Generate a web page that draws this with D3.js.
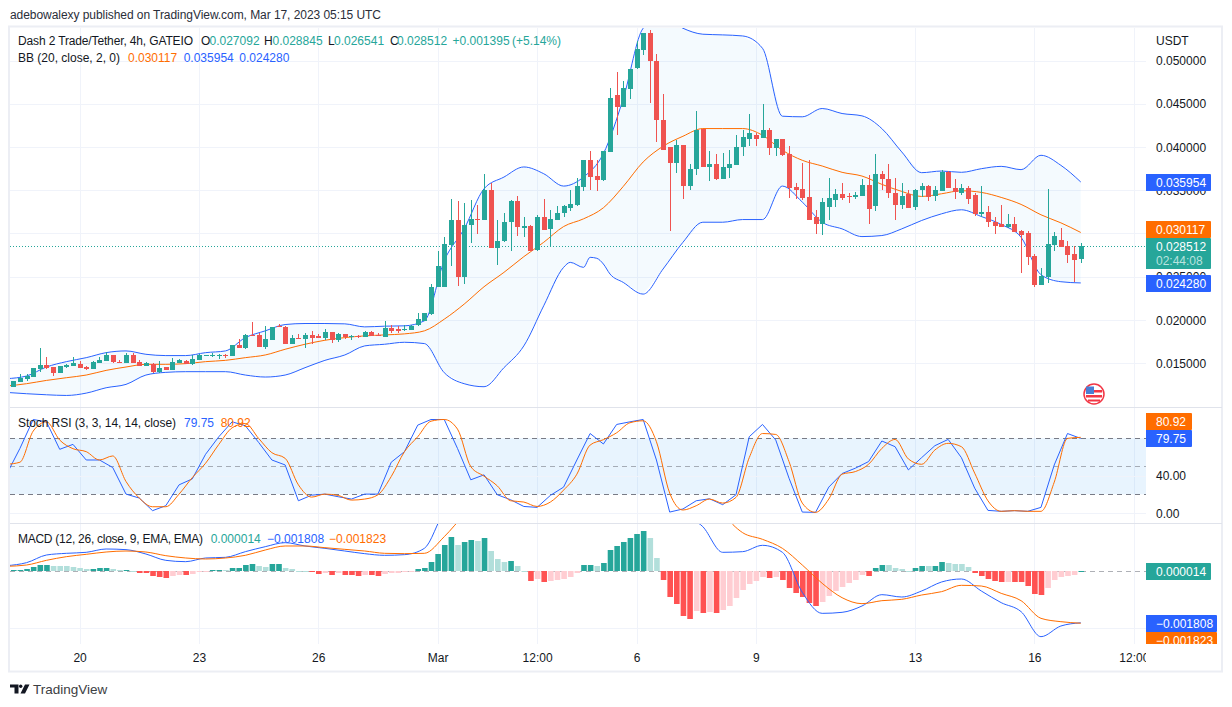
<!DOCTYPE html>
<html>
<head>
<meta charset="utf-8">
<title>Dash 2 Trade/Tether</title>
<script src="https://cdn.jsdelivr.net/npm/d3@7"></script>
<style>
  body { margin: 0; background: #fff; }
  svg { display: block; }
  text { font-family: "Liberation Sans", sans-serif; font-size: 12px; fill: #131722; }
  .axis text { font-size: 12px; fill: #131722; }
  .axis path { display: none; }
</style>
</head>
<body>
<svg id="chart" width="1232" height="707"></svg>
<script>
// Candles, one value per 4h bar
const opens = [
  .01228,.01286,.01313,.0134,.0143,.01475,.01456,.0139,.01456,.0147,
  .01487,.0146,.01437,.01506,.0153,.0159,.01518,.01499,.0159,.01514,
  .0147,.01487,.01398,.01456,.01425,.01502,.01522,.01487,.01537,.01588,
  .01584,.01588,.01595,.01588,.01708,.01676,.01827,.01827,.01692,.01773,
  .01925,.0192,.01727,.01793,.0178,.01827,.01816,.01793,.0186,.0177,
  .01839,.01804,.0182,.01808,.0186,.0183,.01808,.01905,.01897,.01885,
  .01889,.0194,.0199,.02067,.02376,.02384,.0287,.0316,.02492,.03096,
  .03173,.0316,.03498,.02829,.0291,.0313,.0337,.03069,.03092,.0281,
  .03196,.03057,.03161,.03239,.03297,.03324,.03533,.03846,.0366,.03614,
  .03943,.046,.0446,.04673,.0491,.05122,.05315,.04994,.0431,.03997,
  .03811,.0402,.03544,.03742,.04213,.03765,.038,.03625,.03753,.03788,
  .03997,.0409,.04136,.04101,.04194,.03985,.0409,.03915,.03537,.0351,
  .03417,.03196,.03104,.03305,.03382,.03459,.03428,.0342,.03428,.03556,
  .03312,.03684,.03633,.0347,.03324,.03459,.03305,.03498,.03544,.03428,
  .03486,.0371,.03529,.03463,.03529,.0344,.0322,.03254,.03138,.03104,
  .0308,.03115,.03034,.03003,.02744,.02407,.025,.02871,.02929,.0286,
  .02767,.027092
];
const closes = [
  .0129,.01332,.01355,.01444,.01476,.01445,.0139,.01464,.0148,.015,
  .01448,.01437,.01514,.01537,.01595,.01514,.01499,.01595,.01506,.01468,
  .01502,.01398,.0144,.01425,.0151,.01537,.01487,.01545,.01595,.01595,
  .01594,.016,.01584,.01708,.0168,.01827,.0182,.01692,.01777,.0192,
  .01916,.01727,.0179,.01785,.01827,.01793,.01793,.01858,.0177,.01839,
  .01804,.01816,.01808,.0186,.01816,.0181,.01905,.01874,.01878,.01897,
  .0193,.02009,.02075,.02376,.02628,.0288,.0316,.02492,.03103,.03173,
  .03165,.03498,.02829,.02918,.03138,.0337,.03072,.03092,.02802,.03196,
  .03045,.0317,.03231,.03312,.03335,.03544,.03846,.03649,.03614,.0395,
  .04565,.0446,.04677,.04898,.05134,.05315,.04994,.0431,.03962,.03815,
  .0402,.03544,.03742,.04194,.03765,.038,.03625,.03765,.038,.03997,
  .04113,.04159,.0409,.04194,.03985,.0409,.03904,.03525,.03498,.03409,
  .0315,.03107,.03359,.03405,.03459,.03405,.0342,.0344,.03556,.03278,
  .03684,.03626,.03463,.03324,.03428,.03293,.03498,.03544,.0342,.03498,
  .0371,.03521,.03479,.03529,.03394,.0322,.03254,.03127,.03092,.0308,
  .03111,.03022,.02987,.02732,.02407,.02512,.02883,.02976,.0284,.02756,
  .02697,.028512
];
const highs = [
  .0129,.0137,.0138,.0145,.0168,.0157,.0146,.0147,.0149,.0157,
  .01525,.0147,.0153,.0157,.0163,.0159,.01533,.01614,.01618,.01533,
  .01518,.015,.01525,.0146,.01556,.0155,.0154,.016,.01603,.016,
  .01618,.0161,.01603,.01715,.01777,.01835,.01978,.01854,.0193,.01923,
  .0195,.01935,.01823,.01843,.01847,.01874,.01835,.01893,.01862,.01845,
  .0184,.01827,.01831,.01874,.01874,.0185,.0199,.01943,.0193,.01943,
  .0194,.0208,.0208,.02415,.028,.02964,.03393,.0338,.0335,.0339,
  .03324,.03683,.03587,.03157,.03235,.03382,.03428,.03188,.03103,.03208,
  .03393,.03266,.03312,.03324,.03498,.03645,.03846,.0395,.03846,.0395,
  .04677,.04867,.0476,.04898,.0523,.05323,.05354,.0507,.0461,.03997,
  .04078,.0402,.03807,.04418,.04213,.0395,.03923,.0393,.0397,.04136,
  .04194,.04387,.0416,.04496,.0422,.0409,.0409,.04008,.03587,.03819,
  .03846,.03277,.03413,.03645,.0351,.03587,.0347,.03479,.03626,.0368,
  .03916,.03722,.038,.03645,.03583,.03498,.03517,.03587,.03556,.03548,
  .0373,.03718,.03626,.03568,.03544,.03467,.03544,.0332,.03189,.03324,
  .0322,.03196,.03042,.03026,.02763,.02601,.03517,.03022,.03069,.02918,
  .0286,.028845
];
const lows = [
  .01228,.0128,.0129,.0134,.014,.0143,.0135,.0139,.0145,.0147,
  .01448,.0142,.01437,.01506,.0153,.01506,.01499,.01499,.01499,.01468,
  .01468,.0139,.0139,.0142,.0142,.015,.01487,.0148,.01537,.01588,
  .01576,.01553,.01557,.01588,.0168,.01668,.01815,.01692,.01669,.0177,
  .01916,.01727,.01727,.01785,.0168,.0172,.01789,.01766,.01738,.0175,
  .01777,.01773,.01796,.01808,.01816,.0181,.01808,.01854,.01854,.01874,
  .01889,.0193,.0199,.0206,.02376,.02376,.02628,.02396,.02415,.02887,
  .02995,.0315,.02829,.0264,.02898,.02794,.02976,.02956,.02802,.02802,
  .03045,.0284,.0315,.03196,.03258,.03312,.0349,.03498,.0349,.03602,
  .03943,.04136,.0446,.04554,.04898,.05068,.04503,.04059,.03962,.03034,
  .037,.03393,.03498,.03672,.03765,.03602,.03614,.03625,.0364,.03788,
  .03892,.04008,.04008,.04101,.03904,.03892,.03892,.03409,.034,.03382,
  .0315,.02995,.02987,.0315,.03305,.03382,.03351,.03401,.03428,.03104,
  .03258,.03498,.03409,.0315,.03278,.03293,.03266,.0342,.03374,.03374,
  .03486,.03521,.03394,.0344,.03336,.032,.03189,.03073,.02995,.0308,
  .03065,.03022,.02539,.02639,.02384,.02407,.02423,.02794,.0284,.02663,
  .02442,.026541
];

// Bollinger bands, read every third bar starting just off the left edge
const bbBars = d3.range(-1, 162, 3);
const bbUpper = [
  .01321,.01352,.01456,.01518,.01564,.01622,.01642,.01603,.01588,.01588,.01622,.01642,.01796,.01874,.01947,.01959,.01959,.01955,.0192,.01928,.01932,
  .0199,.02686,.03053,.03517,.03652,.03769,.03691,.03548,.03652,.03923,.04561,.05373,.0551,.05373,.05304,.05296,.05284,.05141,.04356,.04349,.04445,
  .04387,.0436,.04213,.03943,.03703,.03722,.03707,.03749,.03776,.03738,.03904,.03788,.035954
];
const bbMiddle = [
  .01236,.01263,.01301,.01332,.01363,.01417,.01456,.01487,.01487,.01495,.01518,.01533,.01564,.01595,.01661,.01719,.01765,.01796,.01816,.01827,.01839,
  .01874,.02009,.02183,.02384,.0255,.02732,.02898,.0308,.03169,.03297,.03544,.03827,.04008,.04124,.04213,.04213,.04213,.04136,.03962,.03846,.0378,
  .03707,.03664,.03568,.03486,.03428,.03459,.03494,.03475,.03417,.03336,.03216,.03123,.030117
];
// The lower band has a small bump around bars 84-90, so it is read closer there
const bbLowerBars = [...bbBars.filter(b => b <= 83), 84, 86, 87, 88, 89, 90, 92, ...bbBars.filter(b => b > 92)];
const bbLower = [
  .01162,.01147,.01135,.01127,.01154,.01216,.01255,.01363,.01394,.01402,.01402,.01402,.01363,.0134,.01363,.01448,.01533,.01595,.017,.01719,.01742,
  .01727,.0139,.01263,.01228,.01448,.017,.02164,.02608,.02666,.02608,.02724,.02713,.02647,.02531,.02434,.02299,.02589,.02898,.0313,.0313,.03161,.03161,.03548,.03363,.0313,
  .03053,.02964,.02976,.03053,.0315,.03227,.03274,.03196,.03104,.02956,.02523,.02442,.02428
];

// Stoch RSI, read every second bar
const stochBars = d3.range(-1, 162, 2);
const stochK = [
  41.5,69.1,100,97.5,68.1,73.4,56.7,56.7,48.6,20.2,16,2.5,7.8,30.1,36.5,62.8,81.6,97.5,93.3,75.5,56.7,51.4,13.1,19.1,20.2,17.4,14.9,20.2,20.2,54.3,65.6,94,
  100,100,69,35.5,40.8,19.5,14.2,7,6,18.8,27.7,56.7,85,73.8,94.7,97.5,100,56.7,1,4.3,13.1,15.2,8.9,19.5,81.6,94.7,78,37.2,1,.7,
  27.7,42.2,47.9,55,77,70.9,46.1,59.2,72,78.7,59.2,26.6,2.8,1.8,2.5,1.8,6,51.4,85,79.75
];
const stochD = [
  52.1,54.3,87.6,97.5,78,68.8,65.6,56.7,61,33.7,16,6.7,6.7,20.2,37.9,53.2,73.4,91.1,95.7,79.8,64.5,58.5,30.1,17,20.2,18.8,13.8,14.9,19.5,39,65.6,81.6,
  98.2,100,89.7,49.6,39.4,29,13.1,11.7,7,11.7,24.5,41.5,72.7,78.4,85.8,96.5,98.6,76.2,21.3,3.2,7.8,14.9,10.6,16.7,59.2,85,84,55,10.6,.7,
  14.9,41.5,44.3,52.1,69.1,78.7,57.8,52.1,67.4,74.5,70.9,42.6,13.1,1.8,2.5,1.8,1.8,33,79.8,80.92
];
const stochTicks = [0, 40];
const stochLevels = [80, 50, 20];

// MACD, in millionths, lines read every third bar
const millionths = a => a.map(v => v * 1e-6);
const macdBars = d3.range(-1, 162, 3);
const macdLine = millionths([
  186,291,558,617,652,768,745,593,372,326,454,477,675,849,989,873,791,698,605,547,570,
  791,2070,2650,3467,3758,3816,3642,3584,3758,3816,4398,5212,3502,2071,1547,652,675,896,652,-745,-1478,
  -1443,-1222,-826,-908,-698,-384,-279,-698,-1105,-1419,-2292,-1920,-1808
]);
const macdSignal = millionths([
  163,209,372,500,582,663,698,663,535,454,419,454,547,733,873,873,814,756,698,617,605,
  617,1198,1955,2536,2885,3060,3176,3176,3293,3409,3584,3816,3816,3642,3013,2013,1338,1105,791,209,-430,
  -931,-1140,-1036,-989,-838,-721,-500,-524,-780,-1036,-1652,-1769,-1823
]);
const macdHist = millionths([
  35,47,70,151,198,209,180,175,169,151,116,81,87,93,110,81,47,52,12,-81,
  -87,-186,-198,-233,-163,-128,-134,-93,-35,-12,23,47,35,105,110,221,244,175,151,233,
  244,105,70,17,12,-47,-93,-58,-140,-70,-140,-145,-163,-128,-140,-163,-93,-81,-58,-52,
  -47,58,116,326,593,908,1187,908,1024,1082,1047,1152,698,419,326,349,175,12,-349,-279,
  -384,-349,-326,-279,-209,-58,209,215,175,279,733,873,1012,1152,1291,1396,1152,454,-314,-908,
  -1152,-1571,-1675,-1396,-1466,-1431,-1466,-1361,-1222,-942,-663,-454,-349,-209,-244,-209,-314,-593,-768,-908,
  -1117,-1222,-1082,-873,-698,-558,-419,-314,-140,-175,105,209,204,105,70,12,105,175,163,175,
  314,279,244,239,140,-70,-175,-279,-349,-384,-372,-384,-390,-524,-803,-838,-593,-314,-209,-175,
  -140,14
]);

// Axis labels
const priceTicks = [.015, .02, .025, .03, .035, .04, .045, .05];
const timeBars = [10, 28, 46, 64, 79, 94, 112, 136, 154, 169];
const timeLabels = ["20", "23", "26", "Mar", "12:00", "6", "9", "13", "16", "12:00"];
const lastPrice = .028512;

const green = "#26a69a", red = "#ef5350", blue = "#2962ff", orange = "#ff6d00";
const grid = "#f0f3fa", frame = "#e0e3eb";
const paneLeft = 10, paneRight = 1146;

const svg = d3.select("#chart");

// Shared bar index scale, every pane and the time axis use it
const x = d3.scaleLinear().domain([0, 169]).range([13.3, 1133.8]);
const barX = i => Math.round(x(i));

function addClip(id, top, bottom, right) {
  svg.append("clipPath").attr("id", id).append("rect")
    .attr("x", paneLeft).attr("y", top)
    .attr("width", (right || paneRight) - paneLeft).attr("height", bottom - top);
}

function hGrid(g, y, ticks) {
  g.selectAll(null).data(ticks).join("line")
    .attr("x1", paneLeft).attr("x2", paneRight)
    .attr("y1", d => Math.round(y(d)) + .5).attr("y2", d => Math.round(y(d)) + .5)
    .attr("stroke", grid);
}

function label(g, px, py, txt, color, size, width) {
  const t = g.append("text").attr("x", px).attr("y", py).attr("dy", "0.35em")
    .style("fill", color || "#131722").style("font-size", (size || 12) + "px").text(txt);
  if (width) t.attr("textLength", width).attr("lengthAdjust", "spacing");
  return t;
}

function badge(g, top, bottom, right, color, txt) {
  g.append("path")
    .attr("d", `M1146 ${top}H${right - 1}q1 0 1 1V${bottom - 1}q0 1 -1 1H1146Z`)
    .attr("fill", color);
  return label(g, 1156, (top + bottom) / 2, txt, "#fff");
}

function drawFrame() {
  svg.append("rect").attr("width", 1232).attr("height", 707).attr("fill", "#fff");
  label(svg, 10, 14.5, "adebowalexy published on TradingView.com, Mar 17, 2023 05:15 UTC", "#2a2e39", 12, 371);

  // Vertical grid runs through all three panes
  svg.append("g").selectAll("line").data(timeBars).join("line")
    .attr("x1", d => barX(d) + .5).attr("x2", d => barX(d) + .5)
    .attr("y1", 28).attr("y2", 644)
    .attr("stroke", grid);

  // Time axis, the last label is cut by the price scale
  addClip("clip-time", 644, 671);
  const axis = svg.append("g").attr("clip-path", "url(#clip-time)")
    .append("g").attr("class", "axis")
    .attr("transform", "translate(0,644)")
    .call(d3.axisBottom(x).tickValues(timeBars)
      .tickFormat((d, i) => timeLabels[i]).tickSize(0));
  axis.selectAll("text").attr("dy", "0.35em").attr("y", 13.5);

  // TradingView mark and name
  const logo = svg.append("g").attr("fill", "#131722");
  logo.append("path").attr("d", "M10 684.5H18.5V693.5H14.5V687.5H10Z");
  logo.append("circle").attr("cx", 20.7).attr("cy", 686.3).attr("r", 1.7);
  logo.append("path").attr("d", "M25 684.5H29.5L25 693.5H20.5Z");
  label(svg, 33, 689.5, "TradingView", "#3c4043", 13.5);
}

function drawPrice() {
  const g = svg.append("g");
  const y = d3.scaleLinear().domain([.015, .05]).range([363.2, 60.5]);
  addClip("clip-price", 28, 407);

  hGrid(g, y, priceTicks);

  const plot = g.append("g").attr("clip-path", "url(#clip-price)");

  // Band fill, upper edge out and lower edge back
  const outline = [
    ...bbUpper.map((d, i) => [x(bbBars[i]), y(d)]),
    ...bbLower.map((d, i) => [x(bbLowerBars[i]), y(d)]).reverse()
  ];
  plot.append("path")
    .attr("d", d3.line()(outline) + "Z")
    .attr("fill", "#2196f3").attr("fill-opacity", 0.05);

  // Dotted last price
  plot.append("line")
    .attr("x1", paneLeft).attr("x2", paneRight)
    .attr("y1", Math.round(y(lastPrice)) + .5).attr("y2", Math.round(y(lastPrice)) + .5)
    .attr("stroke", green).attr("stroke-dasharray", "1 2");

  const line = bars => d3.line().curve(d3.curveMonotoneX)
    .x((d, i) => x(bars[i])).y(d => y(d));
  [[bbUpper, bbBars, blue], [bbLower, bbLowerBars, blue], [bbMiddle, bbBars, orange]].forEach(([vals, bars, color]) => {
    plot.append("path").datum(vals)
      .attr("d", line(bars))
      .attr("fill", "none").attr("stroke", color).attr("stroke-width", 1);
  });

  // Candles
  const candles = plot.append("g").attr("shape-rendering", "crispEdges");
  candles.selectAll(".wick").data(opens).join("rect")
    .attr("class", "wick")
    .attr("x", (d, i) => barX(i))
    .attr("y", (d, i) => Math.round(y(highs[i])))
    .attr("width", 1)
    .attr("height", (d, i) => Math.max(1, Math.round(y(lows[i])) - Math.round(y(highs[i]))))
    .attr("fill", (d, i) => closes[i] >= d ? green : red);
  candles.selectAll(".body").data(opens).join("rect")
    .attr("class", "body")
    .attr("x", (d, i) => barX(i) - 2)
    .attr("y", (d, i) => Math.round(y(Math.max(d, closes[i]))))
    .attr("width", 5)
    .attr("height", (d, i) => Math.max(1, Math.round(y(Math.min(d, closes[i]))) - Math.round(y(Math.max(d, closes[i])))))
    .attr("fill", (d, i) => closes[i] >= d ? green : red);

  // Price scale
  const axis = g.append("g").attr("class", "axis")
    .attr("transform", `translate(${paneRight},0)`)
    .call(d3.axisRight(y).tickValues(priceTicks)
      .tickFormat(d3.format(".6f")).tickSize(0).tickPadding(10));
  axis.selectAll("text").attr("dy", "0.35em");
  label(g, 1156, 41, "USDT");

  badge(g, 174, 191, 1211, blue, "0.035954");
  badge(g, 221, 238, 1211, orange, "0.030117");
  badge(g, 238, 269, 1211, green, "0.028512").attr("y", 246.5);
  label(g, 1156, 261, "02:44:08", "#b8e3df");
  badge(g, 275, 292, 1211, blue, "0.024280");

  // Legend
  label(g, 18, 41, "Dash 2 Trade/Tether, 4h, GATEIO", null, 12, 175);
  label(g, 201, 41, "O"); label(g, 209.5, 41, "0.027092", green);
  label(g, 264, 41, "H"); label(g, 272.5, 41, "0.028845", green);
  label(g, 328, 41, "L"); label(g, 334, 41, "0.026541", green);
  label(g, 390, 41, "C"); label(g, 397, 41, "0.028512", green);
  label(g, 452.5, 41, "+0.001395", green);
  label(g, 512, 41, "(+5.14%)", green);
  label(g, 18, 58, "BB (20, close, 2, 0)", null, 12, 102);
  label(g, 128, 58, "0.030117", orange);
  label(g, 183.7, 58, "0.035954", blue);
  label(g, 239.3, 58, "0.024280", blue);

  // Economic events flag
  const flag = g.append("g").attr("transform", "translate(1094,394)");
  flag.append("circle").attr("r", 10).attr("fill", "#fff").attr("stroke", "#f23645").attr("stroke-width", 1.5);
  flag.append("rect").attr("x", -8).attr("y", -4).attr("width", 16).attr("height", 2.5).attr("fill", "#f23645");
  flag.append("rect").attr("x", -8).attr("y", 1).attr("width", 16).attr("height", 2.5).attr("fill", "#f23645");
  flag.append("rect").attr("x", -6).attr("y", 5.5).attr("width", 12).attr("height", 2).attr("fill", "#f23645");
  flag.append("rect").attr("x", -8).attr("y", -7.5).attr("width", 8).attr("height", 7.5).attr("fill", "#4a7fd4");
}

function drawStoch() {
  const g = svg.append("g");
  const y = d3.scaleLinear().domain([0, 100]).range([513, 419.5]);
  addClip("clip-stoch", 408, 523);

  g.append("rect")
    .attr("x", paneLeft).attr("width", paneRight - paneLeft)
    .attr("y", y(80)).attr("height", y(20) - y(80))
    .attr("fill", "#2196f3").attr("fill-opacity", 0.1);

  hGrid(g, y, stochTicks);

  g.selectAll(".level").data(stochLevels).join("line")
    .attr("class", "level")
    .attr("x1", paneLeft).attr("x2", paneRight)
    .attr("y1", d => Math.round(y(d)) + .5).attr("y2", d => Math.round(y(d)) + .5)
    .attr("stroke", "#787b86")
    .attr("stroke-opacity", d => d === 50 ? 0.6 : 1)
    .attr("stroke-dasharray", "5 4");

  const plot = g.append("g").attr("clip-path", "url(#clip-stoch)");
  // %K keeps its corners, %D is the smoothed one
  plot.append("path").datum(stochK)
    .attr("d", d3.line().x((d, i) => x(stochBars[i])).y(d => y(d)))
    .attr("fill", "none").attr("stroke", blue).attr("stroke-width", 1);
  plot.append("path").datum(stochD)
    .attr("d", d3.line().curve(d3.curveMonotoneX).x((d, i) => x(stochBars[i])).y(d => y(d)))
    .attr("fill", "none").attr("stroke", orange).attr("stroke-width", 1);

  const axis = g.append("g").attr("class", "axis")
    .attr("transform", `translate(${paneRight},0)`)
    .call(d3.axisRight(y).tickValues(stochTicks)
      .tickFormat(d3.format(".2f")).tickSize(0).tickPadding(10));
  axis.selectAll("text").attr("dy", "0.35em");

  badge(g, 413, 430, 1192, orange, "80.92");
  badge(g, 430, 447, 1192, blue, "79.75");

  label(g, 18, 423, "Stoch RSI (3, 3, 14, 14, close)", null, 12, 158);
  label(g, 184, 423, "79.75", blue);
  label(g, 220.7, 423, "80.92", orange);
}

function drawMacd() {
  const g = svg.append("g");
  const y = d3.scaleLinear().domain([0, -.002]).range([571, 628.3]);
  addClip("clip-macd", 524, 644);

  hGrid(g, y, [-.002]);

  const plot = g.append("g").attr("clip-path", "url(#clip-macd)");

  plot.append("line")
    .attr("x1", paneLeft).attr("x2", paneRight)
    .attr("y1", Math.round(y(0)) + .5).attr("y2", Math.round(y(0)) + .5)
    .attr("stroke", "#787b86").attr("stroke-opacity", 0.6)
    .attr("stroke-dasharray", "5 4");

  // Histogram colour follows sign and direction
  const histColor = (d, i) => {
    const rising = i === 0 || d >= macdHist[i - 1];
    if (d >= 0) return rising ? "#26a69a" : "#b2dfdb";
    return rising ? "#ffcdd2" : "#ff5252";
  };
  plot.append("g")
    .selectAll("rect").data(macdHist).join("rect")
    .attr("x", (d, i) => x(i) - 2.3)
    .attr("width", 5.6)
    .attr("y", d => Math.round(Math.min(y(d), y(0))))
    .attr("height", d => Math.max(1, Math.round(Math.abs(y(d) - y(0)))))
    .attr("fill", histColor);

  const line = d3.line().curve(d3.curveMonotoneX).x((d, i) => x(macdBars[i])).y(d => y(d));
  [[macdLine, blue], [macdSignal, orange]].forEach(([vals, color]) => {
    plot.append("path").datum(vals)
      .attr("d", line)
      .attr("fill", "none").attr("stroke", color).attr("stroke-width", 1);
  });

  badge(g, 563, 580, 1211, green, "0.000014");

  // The lower badges run off the bottom of the pane
  svg.append("clipPath").attr("id", "clip-macd-scale").append("rect")
    .attr("x", 1146).attr("y", 524).attr("width", 76).attr("height", 120);
  const scale = g.append("g").attr("clip-path", "url(#clip-macd-scale)");
  badge(scale, 615, 632, 1217, blue, "\u22120.001808");
  badge(scale, 632, 649, 1217, orange, "\u22120.001823");

  label(g, 18, 538.5, "MACD (12, 26, close, 9, EMA, EMA)", null, 12, 185);
  label(g, 210.7, 538.5, "0.000014", green);
  label(g, 267, 538.5, "\u22120.001808", blue);
  label(g, 329, 538.5, "\u22120.001823", orange);
}

function drawBorders() {
  const b = svg.append("g").attr("fill", "none").attr("stroke", frame);
  b.append("rect").attr("x", 9).attr("y", 26.5).attr("width", 1213).attr("height", 645)
    .attr("stroke", "#eceef4").attr("stroke-width", 2);
  [407.5, 523.5].forEach(py => {
    b.append("line").attr("x1", 10).attr("x2", 1222).attr("y1", py).attr("y2", py);
  });
}

drawFrame();
drawPrice();
drawStoch();
drawMacd();
drawBorders();
</script>
</body>
</html>
